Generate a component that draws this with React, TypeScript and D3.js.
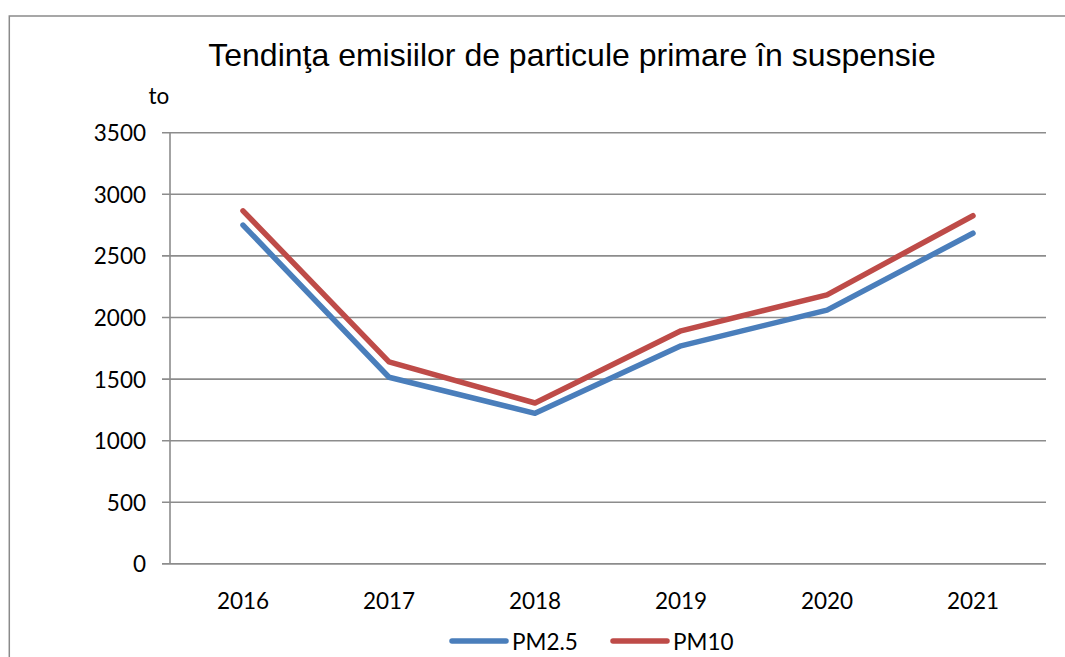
import React from "react";
import * as d3 from "d3";

const years = ["2016", "2017", "2018", "2019", "2020", "2021"];
const pm25 = [2750, 1515, 1222, 1770, 2060, 2684];
const pm10 = [2866, 1640, 1306, 1892, 2184, 2826];
const yTicks = [0, 500, 1000, 1500, 2000, 2500, 3000, 3500];
const seriesNames = ["PM2.5", "PM10"];
const colors = ["#4A7EBB", "#BE4B48"];

const W = 1065;
const H = 657;
const plot = { left: 170, right: 1046, top: 132.7, bottom: 563.9 };
const font = "Lato, 'Open Sans', sans-serif";

export default function App() {
  const x = d3.scaleBand().domain(years).range([plot.left, plot.right]);
  const y = d3.scaleLinear().domain([0, 3500]).range([plot.bottom, plot.top]);
  const line = d3
    .line<number>()
    .x((_, i) => (x(years[i]) as number) + x.bandwidth() / 2)
    .y((d) => y(d));
  const series = [pm25, pm10];

  return (
    <svg
      width={W}
      height={H}
      style={{ position: "absolute", left: 0, top: 0, background: "#fff" }}
    >
      <rect x={9.3} y={16} width={W + 20} height={H + 20} fill="#fff" stroke="#8a8a8a" strokeWidth={1.5} />
      <text
        x={572}
        y={66}
        textAnchor="middle"
        fontFamily="'Liberation Sans', Arial, sans-serif"
        fontSize={32}
        fill="#000"
      >
        Tendinţa emisiilor de particule primare în suspensie
      </text>
      <text x={159} y={98} textAnchor="middle" dominantBaseline="middle" fontFamily={font} fontSize={22.5} fill="#000">
        to
      </text>
      {yTicks.map((t) => (
        <g key={t}>
          <line x1={162} x2={plot.right} y1={y(t)} y2={y(t)} stroke="#8c8c8c" strokeWidth={1.6} />
          <text
            x={146}
            y={y(t)}
            textAnchor="end"
            dominantBaseline="central"
            fontFamily={font}
            fontSize={22.5}
            fill="#000"
          >
            {t}
          </text>
        </g>
      ))}
      <line x1={plot.left} x2={plot.left} y1={plot.top} y2={plot.bottom} stroke="#8c8c8c" strokeWidth={1.6} />
      {years.map((yr) => (
        <text
          key={yr}
          x={(x(yr) as number) + x.bandwidth() / 2}
          y={600}
          textAnchor="middle"
          dominantBaseline="central"
          fontFamily={font}
          fontSize={22.5}
          fill="#000"
        >
          {yr}
        </text>
      ))}
      {series.map((s, i) => (
        <path
          key={i}
          d={line(s) as string}
          fill="none"
          stroke={colors[i]}
          strokeWidth={5.5}
          strokeLinecap="round"
          strokeLinejoin="round"
        />
      ))}
      {seriesNames.map((n, i) => {
        const lx = i === 0 ? 452 : 613;
        return (
          <g key={n}>
            <line x1={lx} x2={lx + 54} y1={641} y2={641} stroke={colors[i]} strokeWidth={5.5} strokeLinecap="round" />
            <text
              x={lx + 60}
              y={641}
              dominantBaseline="central"
              fontFamily={font}
              fontSize={22.5}
              fill="#000"
            >
              {n}
            </text>
          </g>
        );
      })}
    </svg>
  );
}
